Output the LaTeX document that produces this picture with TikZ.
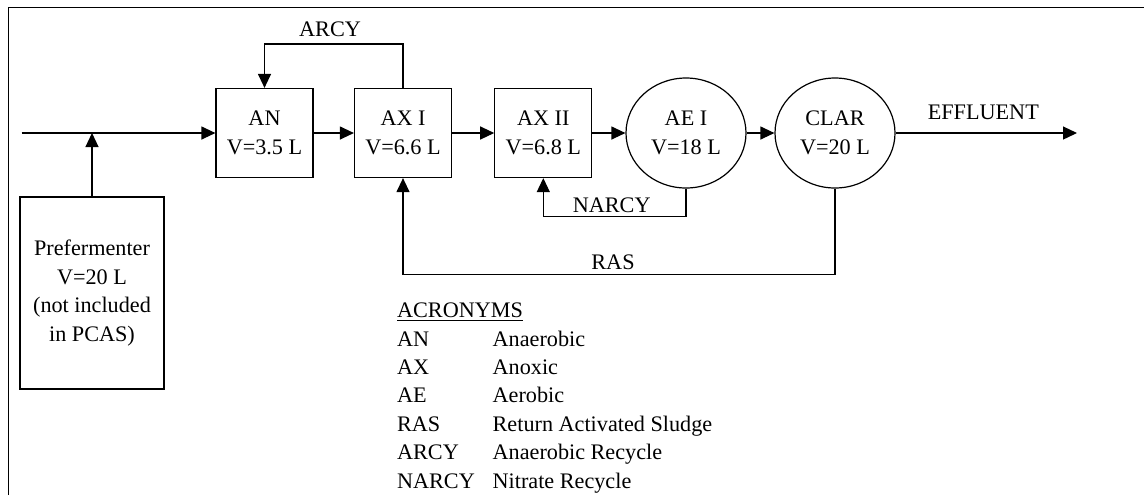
\documentclass[tikz,border=0pt]{standalone}
\usepackage{fontspec}
\setmainfont{Liberation Serif}
\usetikzlibrary{arrows.meta,shapes.geometric}

\begin{document}
\begin{tikzpicture}[x=0.5pt, y=-0.5pt,
    font=\fontsize{11.1}{14.2}\selectfont,
    tank/.style={draw, line width=0.6pt, align=center, minimum width=48.5pt, minimum height=44.5pt},
    reactor/.style={draw, ellipse, line width=0.6pt, align=center, minimum width=60pt, minimum height=55pt},
    flow/.style={line width=0.6pt, -{Triangle[length=7pt,width=6.5pt]}},
    lbl/.style={anchor=base, inner sep=0pt}]
    \useasboundingbox (0,0) rectangle (1144,495);

    % Frame
    \draw[line width=0.5pt] (8.5,495) -- (8.5,7.5) -- (1144,7.5);

    % Tanks and reactors
    \node[tank] (an) at (264.5,133) {AN\\V=3.5 L};
    \node[tank] (ax1) at (403,133) {AX I\\V=6.6 L};
    \node[tank] (ax2) at (543.3,133) {AX II\\V=6.8 L};
    \node[reactor] (ae1) at (686,133) {AE I\\V=18 L};
    \node[reactor] (clar) at (835,133) {CLAR\\V=20 L};
    \node[draw, line width=0.6pt, align=center, minimum width=72pt, minimum height=96pt] (pref) at (92,293)
      {Prefermenter\\V=20 L\\(not included\\in PCAS)};

    \coordinate (in) at (21.7,133);
    \coordinate (out) at (1077,133);

    % Main flow
    \draw[line width=0.6pt] (in) -- (pref.north |- in);
    \draw[flow] (pref.north |- in) -- (an);
    \draw[flow] (pref.north) -- (pref.north |- in);
    \draw[flow] (an) -- (ax1);
    \draw[flow] (ax1) -- (ax2);
    \draw[flow] (ax2) -- (ae1);
    \draw[flow] (ae1) -- (clar);
    \draw[flow] (clar) -- (out);

    % Recycles
    \draw[flow] (ax1.north) -- ++(0,-44) -| (an.north);
    \draw[flow] (ae1.south) -- ++(0,28) -| (ax2.south);
    \draw[flow] (clar.south) -- ++(0,86) -| (ax1.south);

    % Stream labels
    \node[lbl] (arcylbl) at (330,36) {ARCY};
    \node[lbl] (narcylbl) at (611.7,212) {NARCY};
    \node[lbl] (raslbl) at (613,269) {RAS};
    \node[lbl] (efflbl) at (983.3,119.3) {EFFLUENT};

    % Acronyms
    \node[anchor=base west, inner sep=0pt] (acronyms) at (396.7,317.7) {
      \begin{tabular}[t]{@{}p{47.8pt}@{}l@{}}
        \multicolumn{2}{@{}l@{}}{\underline{ACRONYMS}} \\
        AN    & Anaerobic               \\
        AX    & Anoxic                  \\
        AE    & Aerobic                 \\
        RAS   & Return Activated Sludge \\
        ARCY  & Anaerobic Recycle       \\
        NARCY & Nitrate Recycle         \\
      \end{tabular}
    };
  \end{tikzpicture}
\end{document}
